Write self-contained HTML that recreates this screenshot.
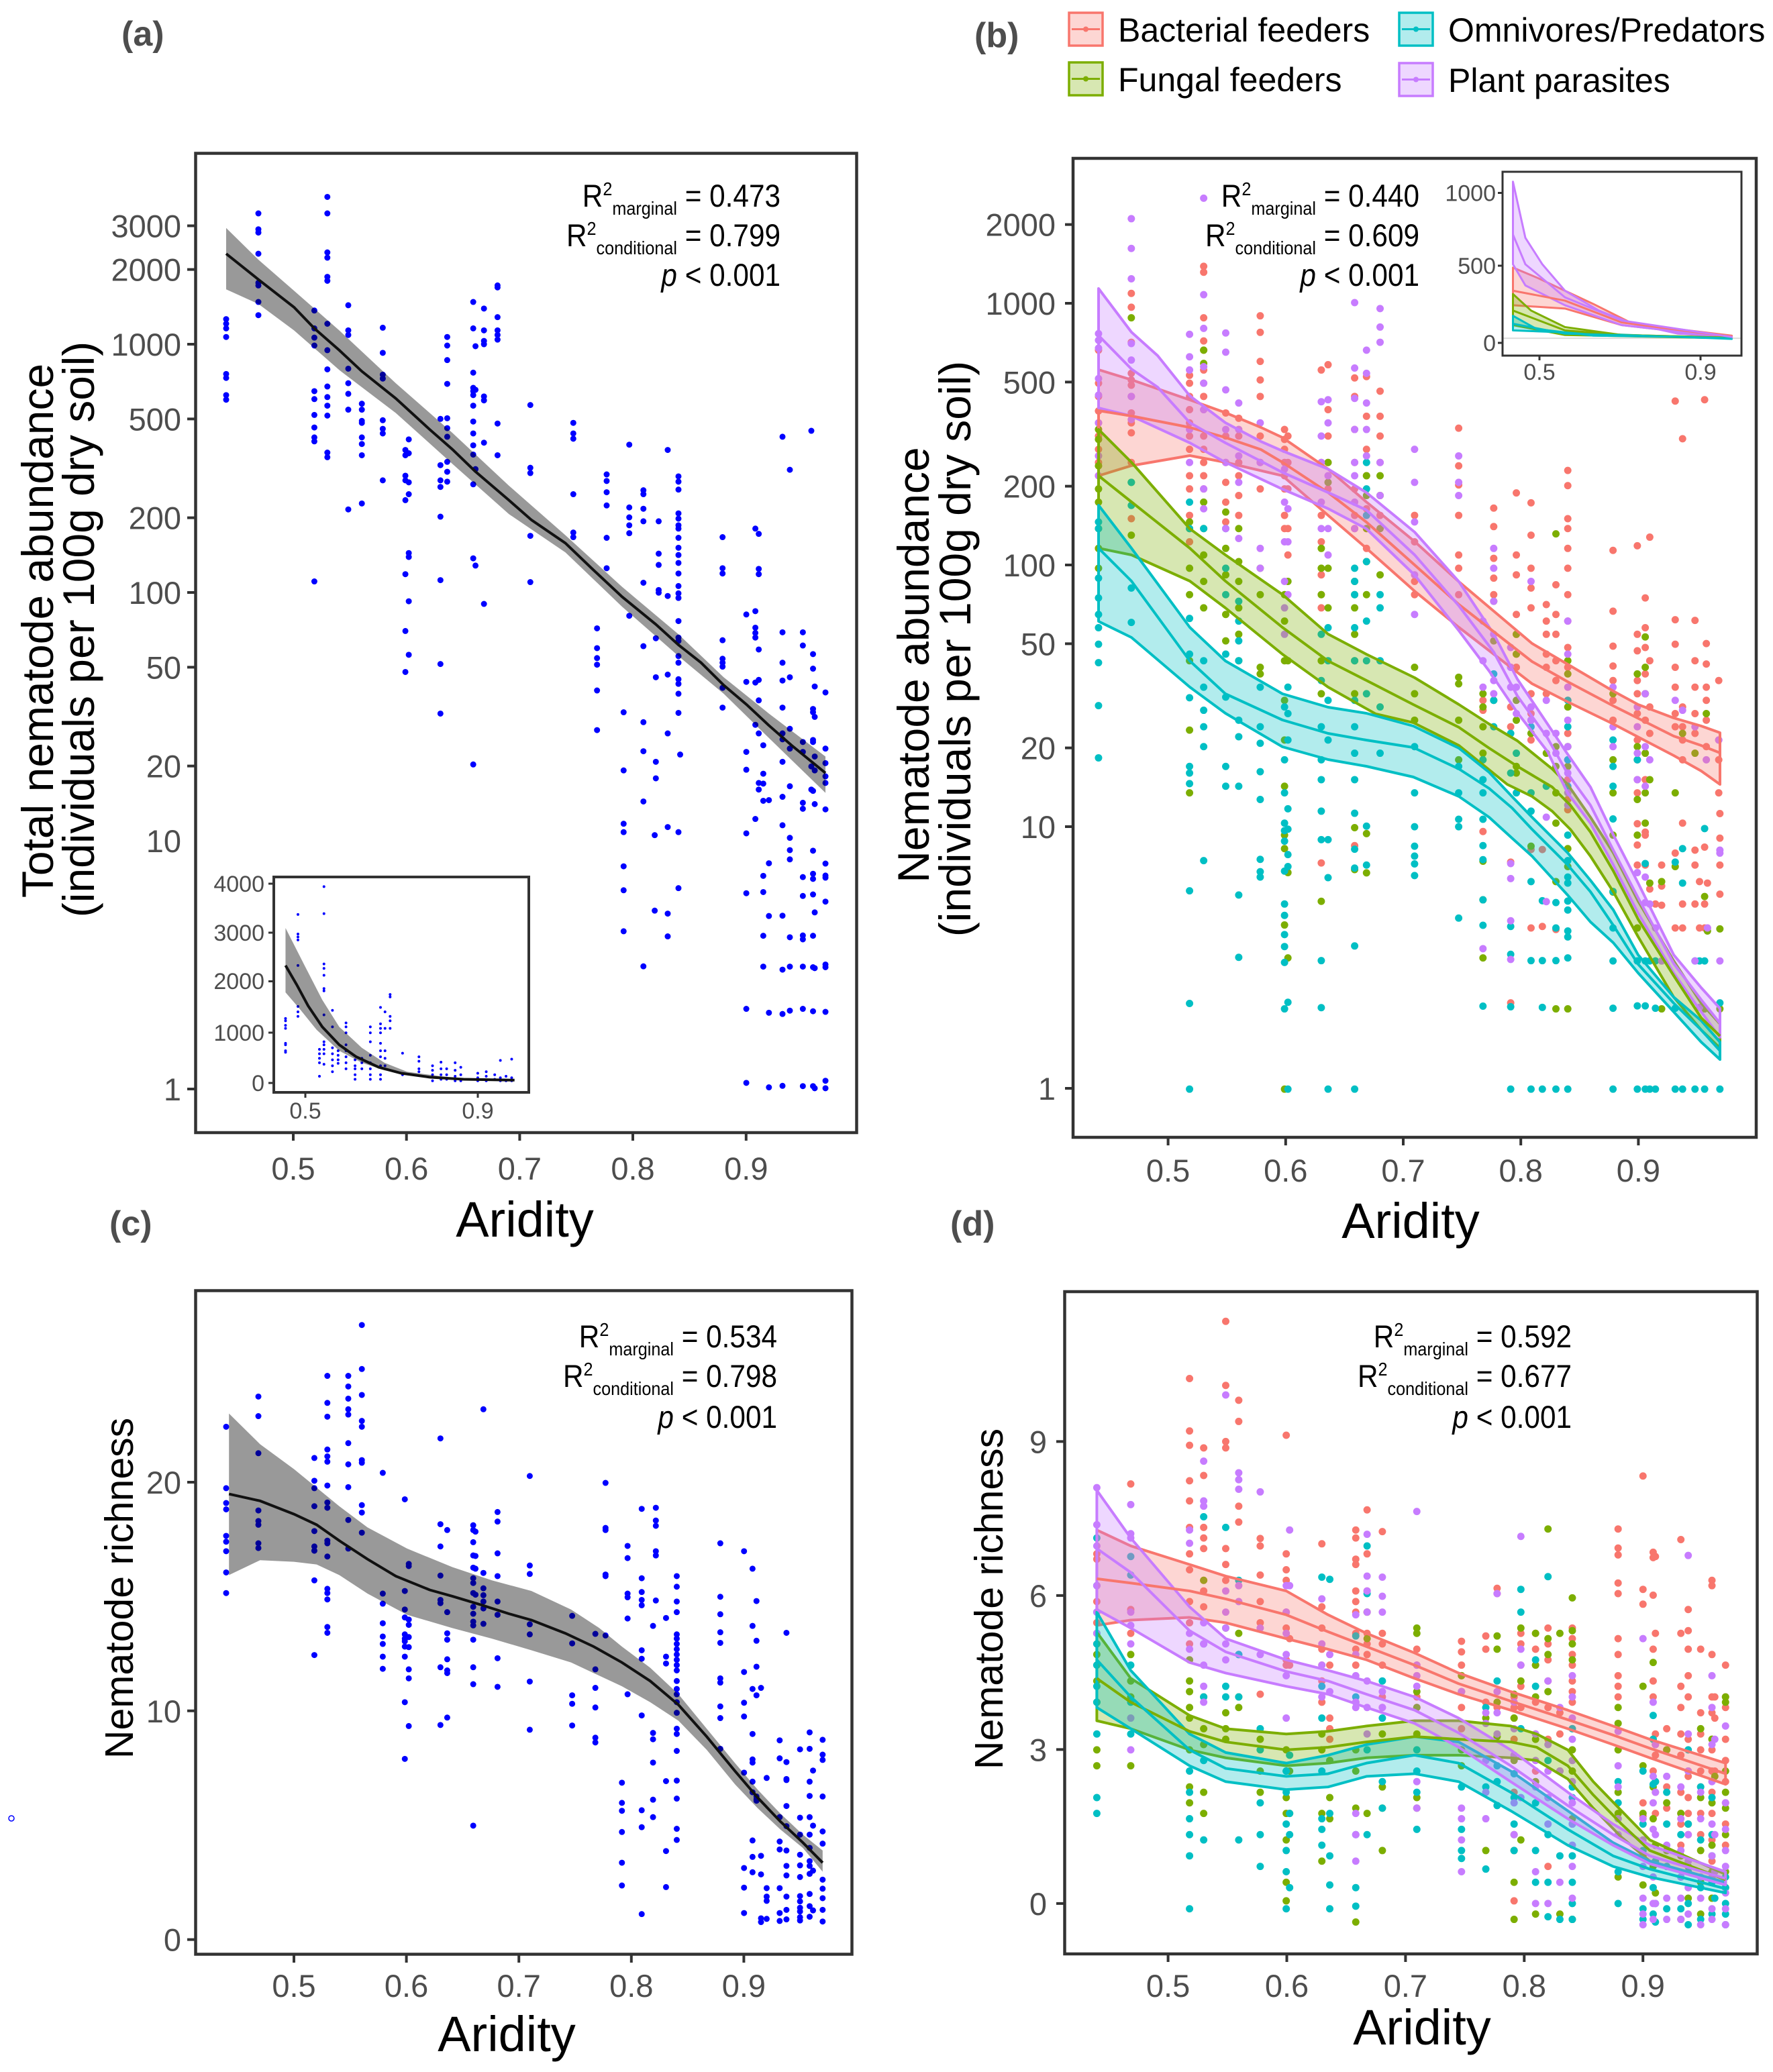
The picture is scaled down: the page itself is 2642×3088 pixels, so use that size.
<!DOCTYPE html>
<html><head><meta charset="utf-8"><style>
html,body{margin:0;padding:0;background:#fff}
svg{display:block}
.nv{vector-effect:non-scaling-stroke}
.d{fill:none;stroke-linecap:round;vector-effect:non-scaling-stroke}
text{font-family:"Liberation Sans",Arial,sans-serif}
.tk{fill:#4d4d4d;font-size:47px}
.ti{fill:#4d4d4d;font-size:34px}
</style></head><body>
<svg width="2642" height="3088" viewBox="0 0 2642 3088" xmlns="http://www.w3.org/2000/svg">
<rect width="2642" height="3088" fill="#fff"/>

<!-- ========== PANEL A ========== -->
<g transform="matrix(0.8425 0 0 0.9847 0 0)">
<path class="d" stroke="#0000ff" stroke-width="9" d="M400 483h0M400 490h0M400 497h0M400 510h0M400 566h0M400 572h0M400 598h0M400 605h0M457 323h0M457 347h0M457 352h0M457 384h0M457 428h0M457 432h0M457 457h0M457 477h0M556 470h0M556 497h0M556 511h0M556 523h0M556 592h0M556 604h0M556 628h0M556 647h0M556 662h0M556 668h0M556 880h0M579 298h0M579 323h0M579 382h0M579 390h0M579 419h0M579 425h0M579 490h0M579 530h0M579 559h0M579 585h0M579 601h0M579 614h0M579 629h0M579 685h0M579 692h0M616 462h0M616 500h0M616 507h0M616 558h0M616 580h0M616 596h0M616 620h0M616 771h0M640 611h0M640 620h0M640 637h0M640 640h0M640 662h0M640 672h0M640 689h0M640 762h0M677 496h0M677 534h0M677 567h0M677 573h0M677 636h0M677 649h0M677 656h0M677 727h0M717 681h0M717 689h0M717 720h0M717 727h0M717 757h0M717 869h0M717 955h0M717 1017h0M723 665h0M723 686h0M723 730h0M723 748h0M723 837h0M723 843h0M723 910h0M723 991h0M779 634h0M779 704h0M779 727h0M779 737h0M779 782h0M779 878h0M779 1005h0M779 1080h0M791 510h0M791 523h0M791 545h0M791 581h0M791 633h0M791 648h0M791 661h0M791 699h0M791 714h0M791 729h0M837 457h0M837 497h0M837 564h0M837 587h0M837 592h0M837 598h0M837 614h0M837 638h0M837 656h0M837 674h0M837 688h0M837 733h0M837 845h0M837 1157h0M841 524h0M841 590h0M841 710h0M841 856h0M856 467h0M856 500h0M856 516h0M856 521h0M856 600h0M856 606h0M856 670h0M856 914h0M880 432h0M880 435h0M880 480h0M880 500h0M880 507h0M880 514h0M880 641h0M880 689h0M938 613h0M938 708h0M938 716h0M938 811h0M938 881h0M1014 640h0M1014 656h0M1014 664h0M1014 748h0M1014 806h0M1014 813h0M1056 951h0M1056 981h0M1056 996h0M1056 1006h0M1056 1045h0M1056 1105h0M1073 718h0M1073 728h0M1073 745h0M1073 765h0M1073 814h0M1073 860h0M1103 1078h0M1103 1166h0M1113 673h0M1113 768h0M1113 783h0M1113 795h0M1113 807h0M1113 932h0M1138 742h0M1138 748h0M1138 770h0M1138 789h0M1138 882h0M1138 978h0M1138 1093h0M1138 1137h0M1138 1213h0M1160 966h0M1160 1025h0M1160 1153h0M1160 1178h0M1165 789h0M1165 838h0M1165 855h0M1165 893h0M1165 897h0M1181 681h0M1181 902h0M1181 1021h0M1181 1110h0M1200 721h0M1200 729h0M1200 741h0M1200 777h0M1200 785h0M1200 795h0M1200 800h0M1200 814h0M1200 829h0M1200 840h0M1200 852h0M1200 868h0M1200 887h0M1200 898h0M1200 905h0M1200 940h0M1200 965h0M1200 970h0M1200 993h0M1200 1003h0M1200 1028h0M1200 1035h0M1200 1050h0M1200 1079h0M1203 1142h0M1278 813h0M1278 860h0M1278 868h0M1278 969h0M1278 997h0M1278 1003h0M1278 1009h0M1278 1041h0M1278 1071h0M1320 930h0M1320 1032h0M1320 1138h0M1320 1165h0M1336 800h0M1336 925h0M1336 950h0M1336 958h0M1336 965h0M1336 1033h0M1336 1097h0M1342 808h0M1342 861h0M1342 869h0M1342 983h0M1342 1029h0M1342 1060h0M1342 1110h0M1342 1185h0M1342 1195h0M1350 1128h0M1350 1171h0M1350 1186h0M1350 1212h0M1360 1211h0M1384 661h0M1384 957h0M1384 1003h0M1384 1030h0M1384 1071h0M1384 1110h0M1384 1119h0M1384 1153h0M1384 1206h0M1397 711h0M1397 1025h0M1397 1103h0M1397 1133h0M1397 1190h0M1420 957h0M1420 977h0M1420 1123h0M1420 1138h0M1420 1215h0M1435 652h0M1435 1160h0M1435 1195h0M1438 990h0M1438 1012h0M1438 1073h0M1438 1078h0M1438 1120h0M1438 1123h0M1438 1197h0M1441 1039h0M1441 1085h0M1441 1145h0M1441 1166h0M1441 1217h0M1460 1048h0M1460 1133h0M1460 1155h0M1460 1175h0M1460 1185h0"/>
<polygon class="nv" fill="#000" fill-opacity="0.4" points="400,345 457,393 520,440 600,500 700,580 800,655 900,735 1000,810 1100,888 1200,960 1280,1025 1360,1080 1460,1145 1460,1200 1360,1117 1280,1050 1200,993 1100,918 1000,836 900,778 800,702 700,625 600,560 520,500 457,460 400,438"/>
<polyline class="nv" fill="none" stroke="#111" stroke-width="4" points="400,384 457,423 520,465 556,497 600,530 640,562 700,603 760,650 800,680 840,713 900,757 940,787 1000,822 1050,863 1100,903 1160,945 1200,976 1240,1003 1280,1037 1320,1066 1360,1098 1400,1128 1460,1170"/>
</g>
<g transform="matrix(0.8425 0 0 0.4464 0 1200)">
<path class="d" stroke="#0000ff" stroke-width="9" d="M1103 62h0M1103 90h0M1103 204h0M1103 284h0M1103 421h0M1138 538h0M1158 100h0M1158 352h0M1181 73h0M1181 362h0M1181 438h0M1200 90h0M1200 277h0M1320 94h0M1320 294h0M1320 680h0M1320 927h0M1336 46h0M1350 236h0M1350 290h0M1350 436h0M1350 539h0M1360 194h0M1360 370h0M1360 693h0M1360 942h0M1384 67h0M1384 369h0M1384 549h0M1384 697h0M1384 937h0M1397 109h0M1397 150h0M1397 181h0M1397 441h0M1397 539h0M1397 686h0M1420 12h0M1420 240h0M1420 303h0M1420 435h0M1420 448h0M1420 539h0M1420 680h0M1420 938h0M1438 152h0M1438 229h0M1438 246h0M1438 298h0M1438 436h0M1438 541h0M1438 688h0M1438 938h0M1441 358h0M1441 544h0M1441 945h0M1460 14h0M1460 195h0M1460 235h0M1460 242h0M1460 322h0M1460 532h0M1460 541h0M1460 690h0M1460 920h0M1460 945h0"/>
</g>
<!-- inset a -->
<rect x="408" y="1307" width="380" height="321" fill="#fff"/>
<g transform="matrix(0.8425 0 0 0.4464 0 1200)">
<path class="d" stroke="#0000ff" stroke-width="4" d="M505 712h0M505 720h0M505 735h0M505 745h0M505 795h0M505 800h0M505 820h0M505 825h0M527 365h0M527 430h0M527 440h0M527 450h0M527 535h0M527 672h0M527 690h0M527 705h0M565 815h0M565 830h0M565 845h0M565 860h0M565 905h0M573 272h0M573 362h0M573 530h0M573 545h0M573 568h0M573 612h0M573 620h0M573 700h0M573 790h0M573 800h0M573 815h0M573 830h0M573 865h0M588 685h0M588 740h0M588 810h0M588 830h0M588 850h0M588 870h0M588 890h0M598 820h0M598 835h0M598 850h0M598 862h0M612 727h0M612 740h0M612 760h0M612 800h0M612 820h0M612 840h0M612 860h0M612 880h0M628 850h0M628 870h0M628 880h0M628 900h0M628 915h0M640 845h0M640 860h0M640 880h0M655 740h0M655 760h0M655 790h0M655 835h0M655 860h0M655 880h0M655 900h0M655 915h0M673 675h0M673 730h0M673 745h0M673 760h0M673 795h0M673 820h0M673 840h0M673 870h0M673 900h0M673 915h0M681 690h0M681 745h0M681 820h0M681 845h0M681 870h0M690 632h0M690 640h0M690 705h0M690 720h0M690 745h0M712 828h0M712 900h0M741 840h0M741 855h0M741 880h0M741 890h0M765 870h0M765 885h0M765 900h0M765 920h0M780 858h0M780 880h0M780 900h0M780 915h0M790 880h0M790 900h0M790 915h0M805 860h0M805 885h0M805 905h0M805 920h0M815 875h0M815 900h0M815 920h0M845 895h0M845 910h0M845 920h0M860 890h0M860 905h0M860 920h0M875 900h0M875 915h0M885 852h0M885 910h0M885 920h0M895 905h0M895 920h0M905 848h0M905 910h0M905 920h0"/>
<polygon class="nv" fill="#000" fill-opacity="0.4" points="505,410 540,540 570,650 600,740 640,810 680,860 720,890 800,910 910,915 910,921 800,915 750,905 680,885 640,860 600,820 560,750 530,680 505,625"/>
<polyline class="nv" fill="none" stroke="#111" stroke-width="4" points="505,535 525,600 545,670 570,740 600,800 630,840 670,875 710,895 760,908 820,915 910,918"/>
</g>
<rect x="408" y="1307" width="380" height="321" fill="none" stroke="#333" stroke-width="4"/>
<g stroke="#333" stroke-width="3">
<path d="M400 1317H408M400 1390H408M400 1462.5H408M400 1539H408M400 1614H408M455 1628V1636M712 1628V1636"/>
</g>
<g class="ti" text-anchor="end">
<text x="394" y="1329">4000</text><text x="394" y="1402">3000</text><text x="394" y="1474">2000</text><text x="394" y="1551">1000</text><text x="394" y="1626">0</text>
</g>
<g class="ti" text-anchor="middle"><text x="455" y="1667">0.5</text><text x="712" y="1667">0.9</text></g>

<!-- frame a -->
<rect x="291.5" y="228.5" width="985" height="1459.5" fill="none" stroke="#333" stroke-width="4.5"/>
<path stroke="#333" stroke-width="4" d="M279 336.5H291M279 401.6H291M279 513H291M279 624.4H291M279 771.6H291M279 883H291M279 994.4H291M279 1141.6H291M279 1623H291M437 1688V1700M605.7 1688V1700M774.4 1688V1700M943 1688V1700M1111.8 1688V1700"/>
<g class="tk" text-anchor="end">
<text x="270" y="353.5">3000</text><text x="270" y="418.6">2000</text><text x="270" y="530">1000</text><text x="270" y="641.4">500</text><text x="270" y="788.6">200</text><text x="270" y="900">100</text><text x="270" y="1011.4">50</text><text x="270" y="1158.6">20</text><text x="270" y="1270">10</text><text x="270" y="1640">1</text>
</g>
<g class="tk" text-anchor="middle">
<text x="437" y="1758">0.5</text><text x="605.7" y="1758">0.6</text><text x="774.4" y="1758">0.7</text><text x="943" y="1758">0.8</text><text x="1111.8" y="1758">0.9</text>
</g>
<g font-size="47">
<text transform="translate(1163,308) scale(0.9,1)" text-anchor="end">R<tspan font-size="28" dy="-17">2</tspan><tspan font-size="28" dy="29">marginal</tspan><tspan dy="-12">&#160;= 0.473</tspan></text>
<text transform="translate(1163,367) scale(0.9,1)" text-anchor="end">R<tspan font-size="28" dy="-17">2</tspan><tspan font-size="28" dy="29">conditional</tspan><tspan dy="-12">&#160;= 0.799</tspan></text>
<text transform="translate(1163,426) scale(0.9,1)" text-anchor="end"><tspan font-style="italic">p</tspan>&#160;&lt; 0.001</text>
</g>
<text transform="translate(79,940) rotate(-90)" text-anchor="middle" font-size="66">Total nematode abundance</text>
<text transform="translate(140,938) rotate(-90)" text-anchor="middle" font-size="66">(individuals per 100g dry soil)</text>
<text x="782" y="1843" text-anchor="middle" font-size="74">Aridity</text>
<text x="181" y="68" font-size="52" font-weight="bold" fill="#4d4d4d">(a)</text>

<!-- ========== PANEL B ========== -->
<g transform="matrix(0.8425 0 0 0.9847 1321 0)">
<path class="d" stroke="#F8766D" stroke-width="11" d="M375 530h0M375 580h0M375 600h0M375 622h0M375 640h0M375 660h0M375 680h0M375 700h0M375 720h0M375 830h0M433 444h0M433 465h0M433 518h0M433 565h0M433 575h0M433 583h0M433 600h0M433 625h0M433 640h0M433 655h0M433 700h0M433 785h0M536 568h0M536 580h0M536 600h0M536 620h0M536 640h0M536 660h0M536 680h0M536 720h0M536 740h0M536 780h0M536 820h0M561 403h0M561 412h0M561 481h0M561 516h0M561 530h0M561 560h0M561 580h0M561 600h0M561 620h0M561 660h0M561 680h0M561 700h0M561 720h0M561 740h0M600 625h0M600 660h0M600 700h0M600 730h0M600 760h0M600 790h0M623 633h0M623 660h0M623 700h0M623 720h0M623 750h0M623 780h0M661 478h0M661 503h0M661 547h0M661 575h0M661 600h0M661 660h0M661 700h0M661 740h0M704 650h0M704 665h0M704 680h0M704 700h0M704 720h0M704 740h0M704 780h0M704 800h0M710 660h0M710 700h0M710 740h0M710 800h0M710 840h0M769 560h0M769 700h0M769 780h0M769 820h0M769 870h0M769 900h0M769 920h0M781 552h0M781 620h0M781 660h0M781 700h0M781 740h0M828 572h0M828 600h0M828 650h0M828 700h0M828 740h0M828 780h0M828 800h0M849 570h0M849 630h0M849 680h0M849 720h0M849 770h0M849 800h0M849 830h0M873 592h0M873 630h0M873 660h0M873 700h0M873 750h0M873 780h0M934 780h0M934 820h0M934 880h0M934 900h0M1012 648h0M1012 705h0M1012 734h0M1012 780h0M1012 840h0M1012 860h0M1012 900h0M1055 1060h0M1055 1075h0M1055 1100h0M1074 769h0M1074 797h0M1074 845h0M1074 875h0M1074 900h0M1104 1010h0M1104 1070h0M1104 1100h0M1114 746h0M1114 840h0M1114 870h0M1114 930h0M1114 960h0M1114 990h0M1114 1010h0M1140 761h0M1140 810h0M1140 860h0M1140 890h0M1140 920h0M1140 1050h0M1140 1080h0M1140 1120h0M1167 915h0M1167 940h0M1167 960h0M1167 990h0M1167 1010h0M1167 1050h0M1184 885h0M1184 930h0M1184 960h0M1184 1000h0M1184 1030h0M1205 712h0M1205 735h0M1205 785h0M1205 800h0M1205 830h0M1205 860h0M1205 900h0M1205 940h0M1205 980h0M1205 1010h0M1205 1060h0M1205 1110h0M1205 1150h0M1205 1180h0M1205 1210h0M1285 833h0M1285 925h0M1285 978h0M1285 1008h0M1285 1030h0M1285 1060h0M1285 1090h0M1328 826h0M1328 960h0M1328 985h0M1328 1030h0M1328 1050h0M1328 1080h0M1328 1120h0M1328 1150h0M1328 1180h0M1328 1200h0M1342 905h0M1342 950h0M1342 980h0M1342 1020h0M1342 1050h0M1342 1090h0M1342 1140h0M1342 1180h0M1350 813h0M1350 1000h0M1350 1070h0M1350 1110h0M1395 607h0M1395 938h0M1395 975h0M1395 1010h0M1395 1040h0M1395 1080h0M1395 1100h0M1408 664h0M1408 1070h0M1408 1100h0M1408 1120h0M1408 1150h0M1430 939h0M1430 1000h0M1430 1040h0M1430 1080h0M1430 1110h0M1447 605h0M1450 974h0M1450 1005h0M1450 1040h0M1450 1060h0M1450 1090h0M1450 1130h0M1472 1030h0M1472 1120h0M1472 1150h0M1472 1200h0"/>
<path class="d" stroke="#7CAE00" stroke-width="11" d="M375 650h0M375 665h0M375 705h0M375 740h0M375 760h0M375 800h0M375 830h0M375 860h0M433 481h0M433 730h0M433 810h0M536 790h0M536 800h0M536 860h0M536 900h0M536 1000h0M536 1105h0M536 1200h0M561 530h0M561 550h0M561 760h0M561 800h0M561 840h0M561 880h0M561 920h0M600 775h0M600 830h0M600 870h0M600 930h0M600 970h0M623 800h0M623 850h0M623 880h0M623 920h0M623 960h0M623 1000h0M661 860h0M661 900h0M661 1010h0M661 1020h0M704 900h0M704 940h0M704 1000h0M704 1060h0M704 1120h0M704 1190h0M710 880h0M710 1000h0M769 830h0M769 860h0M769 900h0M769 1000h0M769 1050h0M781 700h0M781 730h0M781 860h0M781 920h0M828 880h0M828 900h0M828 920h0M828 960h0M828 1000h0M828 1050h0M849 720h0M849 750h0M849 800h0M849 850h0M849 900h0M873 720h0M873 750h0M873 800h0M873 870h0M934 1010h0M934 1050h0M934 1090h0M1012 1025h0M1012 1035h0M1012 1090h0M1012 1150h0M1055 1050h0M1055 1070h0M1055 1100h0M1055 1140h0M1074 910h0M1074 970h0M1074 1060h0M1114 960h0M1114 990h0M1114 1060h0M1114 1090h0M1114 1160h0M1114 1170h0M1140 1090h0M1140 1110h0M1167 1140h0M1184 808h0M1184 1130h0M1184 1160h0M1184 1200h0M1205 1000h0M1205 1020h0M1205 1070h0M1205 1130h0M1205 1160h0M1285 1050h0M1285 1150h0M1285 1200h0M1328 1020h0M1328 1130h0M1328 1210h0M1342 964h0M1342 1010h0M1342 1050h0M1342 1140h0M1342 1200h0M1350 1180h0M1395 1200h0M1408 1110h0M1430 1140h0M1450 1080h0"/>
<path class="d" stroke="#00BFC4" stroke-width="11" d="M375 790h0M375 800h0M375 875h0M375 905h0M375 930h0M375 950h0M375 975h0M375 1003h0M375 1068h0M375 1147h0M433 730h0M433 765h0M433 890h0M433 942h0M536 760h0M536 800h0M536 936h0M536 990h0M536 1056h0M536 1160h0M536 1170h0M536 1186h0M561 800h0M561 1000h0M561 1040h0M561 1075h0M561 1100h0M561 1130h0M600 800h0M600 860h0M600 900h0M600 990h0M600 1055h0M600 1160h0M600 1190h0M623 910h0M623 940h0M623 970h0M623 1000h0M623 1090h0M623 1115h0M623 1190h0M661 1040h0M661 1100h0M661 1125h0M661 1168h0M661 1210h0M704 1070h0M704 1150h0M704 1200h0M710 1040h0M710 1080h0M710 1120h0M769 960h0M769 1030h0M769 1100h0M769 1150h0M769 1180h0M781 950h0M781 1000h0M781 1060h0M781 1120h0M828 860h0M828 880h0M828 900h0M828 950h0M828 1000h0M828 1060h0M828 1100h0M828 1140h0M828 1180h0M849 700h0M849 740h0M849 780h0M849 850h0M849 940h0M849 1000h0M849 1050h0M873 900h0M873 920h0M873 1000h0M873 1070h0M873 1140h0M934 1130h0M934 1200h0M1012 1160h0M1012 1200h0M1055 1150h0M1055 1180h0M1055 1200h0M1074 1020h0M1074 1060h0M1074 1100h0M1104 1110h0M1104 1170h0M1114 1140h0M1114 1200h0M1140 1100h0M1140 1200h0M1167 1190h0M1205 1060h0M1205 1100h0M1205 1150h0M1205 1190h0M1285 1120h0M1285 1160h0M1285 1190h0M1328 1150h0"/>
<path class="d" stroke="#C77CFF" stroke-width="11" d="M561 300h0M375 505h0M375 515h0M375 527h0M375 573h0M375 598h0M375 640h0M375 690h0M375 720h0M433 331h0M433 376h0M433 422h0M433 520h0M433 545h0M433 600h0M433 635h0M536 506h0M536 540h0M536 560h0M536 650h0M536 700h0M561 446h0M561 497h0M561 555h0M561 580h0M561 620h0M561 740h0M561 770h0M600 504h0M600 533h0M600 590h0M600 650h0M600 700h0M600 800h0M623 610h0M623 650h0M623 690h0M623 730h0M623 815h0M661 640h0M661 700h0M661 830h0M661 860h0M704 710h0M704 760h0M704 820h0M704 880h0M704 920h0M704 960h0M710 770h0M710 820h0M710 900h0M769 608h0M769 660h0M769 700h0M769 760h0M769 800h0M781 605h0M781 640h0M781 720h0M781 800h0M781 840h0M828 458h0M828 557h0M828 603h0M828 650h0M828 700h0M828 720h0M828 760h0M828 800h0M849 530h0M849 565h0M849 610h0M849 650h0M849 690h0M873 467h0M873 495h0M873 518h0M873 700h0M873 750h0M934 680h0M934 730h0M934 790h0M934 870h0M934 930h0M1012 690h0M1012 730h0M1012 750h0M1055 940h0M1055 1000h0M1055 1040h0M1074 830h0M1074 860h0M1074 910h0M1074 960h0M1074 1030h0M1074 1050h0M1104 980h0M1104 1010h0M1104 1040h0M1114 1040h0M1114 1080h0M1140 880h0M1140 1070h0M1140 1090h0M1167 1060h0M1167 1110h0M1184 1110h0M1184 1140h0M1205 940h0M1205 990h0M1205 1040h0M1205 1090h0M1205 1130h0M1205 1170h0M1205 1200h0M1285 1040h0M1285 1100h0M1285 1130h0M1328 1070h0M1328 1100h0M1328 1140h0M1328 1180h0M1342 1050h0M1342 1130h0M1342 1190h0M1350 1150h0M1395 1060h0M1408 1075h0M1430 1100h0M1450 1150h0M1472 1120h0"/>
</g>
<g transform="matrix(0.8425 0 0 0.4464 1321 1200)">
<path class="d" stroke="#F8766D" stroke-width="11" d="M769 193h0M828 135h0M1055 88h0M1104 190h0M1104 660h0M1140 410h0M1140 148h0M1160 405h0M1160 148h0M1184 415h0M1205 15h0M1328 62h0M1328 133h0M1328 200h0M1328 410h0M1328 520h0M1342 90h0M1342 100h0M1342 200h0M1350 280h0M1360 330h0M1371 200h0M1371 270h0M1371 334h0M1395 160h0M1395 410h0M1408 60h0M1408 330h0M1408 410h0M1430 150h0M1430 200h0M1430 330h0M1438 255h0M1438 410h0M1447 140h0M1447 330h0M1447 410h0M1452 260h0M1452 410h0M1474 28h0M1474 110h0M1474 200h0M1474 297h0"/>
<path class="d" stroke="#7CAE00" stroke-width="11" d="M704 100h0M704 145h0M704 400h0M704 948h0M710 225h0M710 510h0M769 321h0M828 75h0M828 215h0M849 95h0M849 226h0M1055 187h0M1055 316h0M1055 510h0M1140 137h0M1184 60h0M1184 255h0M1184 680h0M1205 145h0M1205 205h0M1205 680h0M1285 100h0M1285 290h0M1328 100h0M1328 410h0M1342 60h0M1350 260h0M1371 255h0M1371 520h0M1371 680h0M1395 205h0M1447 305h0M1447 680h0M1452 420h0M1474 413h0M1474 680h0"/>
<path class="d" stroke="#00BFC4" stroke-width="11" d="M536 286h0M536 662h0M536 948h0M561 185h0M623 300h0M623 508h0M661 181h0M661 222h0M661 240h0M704 60h0M704 85h0M704 120h0M704 220h0M704 330h0M704 368h0M704 432h0M704 472h0M704 525h0M704 680h0M710 948h0M710 12h0M710 80h0M710 165h0M710 205h0M710 658h0M769 20h0M769 115h0M769 519h0M769 676h0M781 115h0M781 242h0M781 948h0M828 27h0M828 147h0M828 210h0M828 470h0M828 948h0M849 70h0M849 200h0M934 72h0M934 137h0M934 170h0M934 196h0M934 235h0M1012 47h0M1012 72h0M1012 377h0M1055 47h0M1055 135h0M1055 182h0M1055 316h0M1055 401h0M1055 671h0M1104 405h0M1104 498h0M1104 673h0M1104 948h0M1140 20h0M1140 255h0M1140 519h0M1140 948h0M1160 319h0M1160 519h0M1160 675h0M1160 948h0M1184 325h0M1184 410h0M1184 519h0M1184 948h0M1205 100h0M1205 185h0M1205 240h0M1205 260h0M1205 320h0M1205 350h0M1205 420h0M1205 440h0M1205 510h0M1205 948h0M1285 46h0M1285 288h0M1285 410h0M1285 520h0M1285 678h0M1285 948h0M1328 520h0M1328 670h0M1328 948h0M1342 195h0M1342 520h0M1342 670h0M1342 948h0M1350 520h0M1350 948h0M1360 520h0M1360 678h0M1360 948h0M1395 190h0M1395 678h0M1395 948h0M1408 145h0M1408 260h0M1408 948h0M1430 520h0M1430 948h0M1438 520h0M1447 78h0M1447 520h0M1447 948h0M1474 660h0M1474 948h0"/>
<path class="d" stroke="#C77CFF" stroke-width="11" d="M1055 479h0M1104 245h0M1104 386h0M1104 515h0M1104 195h0M1167 40h0M1167 322h0M1205 0h0M1328 225h0M1342 240h0M1342 325h0M1350 330h0M1360 410h0M1371 520h0M1430 520h0M1438 675h0M1452 410h0M1474 150h0M1474 160h0M1474 520h0"/>
</g>
<!-- B ribbons -->
<g stroke-width="4" stroke-linejoin="round">
<polygon fill="#F8766D" fill-opacity="0.3" stroke="#F8766D" points="1637,551 1686,566 1773,596 1826,615 1879,637 1911,652 1979,699 2036,748 2108,807 2174,867 2283,959 2336,990 2404,1030 2441,1050 2494,1070 2535,1082 2563,1092 2563,1169 2535,1149 2494,1126 2404,1079 2336,1046 2283,1019 2174,935 2108,881 2036,817 1979,768 1911,709 1826,689 1773,679 1686,694 1637,709"/>
<polygon fill="#7CAE00" fill-opacity="0.3" stroke="#7CAE00" points="1637,640 1686,689 1773,788 1826,827 1911,886 1979,945 2036,975 2108,1010 2174,1050 2219,1079 2261,1104 2313,1146 2336,1169 2370,1218 2404,1271 2441,1343 2494,1432 2535,1495 2563,1526 2563,1562 2535,1535 2494,1486 2441,1396 2404,1329 2370,1276 2340,1236 2313,1209 2283,1187 2246,1169 2174,1111 2106,1077 2050,1064 1979,1024 1911,975 1826,906 1773,866 1686,827 1637,817"/>
<polygon fill="#00BFC4" fill-opacity="0.3" stroke="#00BFC4" points="1637,753 1686,817 1773,935 1826,985 1911,1034 1979,1054 2036,1063 2106,1082 2174,1115 2219,1151 2253,1187 2283,1218 2336,1271 2370,1312 2404,1356 2441,1423 2494,1486 2535,1521 2563,1553 2563,1579 2535,1553 2494,1508 2441,1450 2404,1405 2370,1374 2336,1334 2283,1276 2253,1249 2219,1218 2174,1187 2106,1158 2036,1142 1979,1132 1911,1113 1826,1063 1773,1024 1686,950 1637,926"/>
<polygon fill="#C77CFF" fill-opacity="0.3" stroke="#C77CFF" points="1637,430 1686,495 1725,530 1773,590 1826,630 1879,658 1911,672 1979,699 2036,734 2108,793 2174,867 2226,945 2261,1012 2306,1079 2336,1124 2370,1173 2404,1244 2441,1316 2494,1423 2535,1472 2563,1503 2563,1546 2535,1508 2494,1450 2441,1361 2404,1289 2370,1227 2336,1182 2306,1120 2261,1062 2219,1000 2174,940 2108,857 2036,788 1979,758 1911,729 1826,689 1773,660 1686,620 1637,608"/>
</g>
<g fill="none" stroke-width="4" stroke-linejoin="round">
<polyline stroke="#F8766D" points="1637,612 1686,620 1773,637 1826,652 1879,670 1911,689 1979,734 2036,778 2108,842 2174,901 2283,986 2336,1016 2404,1052 2494,1097 2535,1111 2563,1122"/>
<polyline stroke="#7CAE00" points="1637,709 1686,748 1773,817 1826,866 1911,935 1979,985 2036,1014 2106,1050 2174,1084 2219,1115 2261,1142 2313,1173 2340,1200 2370,1240 2404,1298 2441,1370 2494,1454 2535,1517 2563,1544"/>
<polyline stroke="#00BFC4" points="1637,817 1686,866 1773,985 1826,1034 1911,1073 1979,1093 2036,1103 2106,1114 2174,1146 2219,1175 2253,1204 2283,1236 2336,1289 2370,1329 2404,1379 2441,1437 2494,1495 2535,1535 2563,1566"/>
<polyline stroke="#C77CFF" points="1637,500 1686,550 1725,577 1773,630 1826,660 1911,704 1979,734 2036,760 2108,827 2174,903 2226,972 2261,1037 2306,1100 2336,1153 2370,1200 2404,1267 2441,1338 2494,1436 2535,1490 2563,1525"/>
</g>
<!-- inset b -->
<rect x="2239" y="256" width="356" height="274" fill="#fff"/>
<g transform="matrix(0.8425 0 0 0.9847 1321 0)" stroke-width="3" stroke-linejoin="round">
<line class="nv" x1="1090" y1="512" x2="1512" y2="512" stroke="#dcdcdc" stroke-width="2"/>
<polygon class="nv" fill="#F8766D" fill-opacity="0.3" stroke="#F8766D" points="1108,405 1150,420 1250,460 1320,490 1495,508 1495,511 1300,492 1200,467 1108,462"/>
<polygon class="nv" fill="#7CAE00" fill-opacity="0.3" stroke="#7CAE00" points="1108,445 1140,470 1200,495 1300,507 1495,511 1495,512 1200,507 1108,492"/>
<polygon class="nv" fill="#00BFC4" fill-opacity="0.3" stroke="#00BFC4" points="1108,478 1150,498 1250,508 1495,511 1495,513 1108,500"/>
<polygon class="nv" fill="#C77CFF" fill-opacity="0.3" stroke="#C77CFF" points="1108,275 1130,360 1160,400 1200,440 1260,470 1320,490 1400,505 1495,510 1495,511 1300,492 1200,462 1130,432 1108,400"/>
<polyline class="nv" fill="none" stroke="#F8766D" points="1108,440 1200,455 1300,488 1495,510"/>
<polyline class="nv" fill="none" stroke="#7CAE00" points="1108,470 1200,500 1300,507 1495,511"/>
<polyline class="nv" fill="none" stroke="#00BFC4" points="1108,490 1200,505 1495,512"/>
<polyline class="nv" fill="none" stroke="#C77CFF" points="1108,355 1130,400 1200,450 1300,485 1495,510"/>
</g>
<rect x="2239" y="256" width="356" height="274" fill="none" stroke="#333" stroke-width="3"/>
<path stroke="#333" stroke-width="3" d="M2232 287.5H2239M2232 396H2239M2232 511H2239M2294 530V537M2534 530V537"/>
<g class="ti" text-anchor="end"><text x="2229" y="299.5">1000</text><text x="2229" y="408">500</text><text x="2229" y="523">0</text></g>
<g class="ti" text-anchor="middle"><text x="2294" y="566">0.5</text><text x="2534" y="566">0.9</text></g>

<rect x="1599" y="236" width="1018" height="1459" fill="none" stroke="#333" stroke-width="4.5"/>
<path stroke="#333" stroke-width="4" d="M1587 334.6H1599M1587 452H1599M1587 569.4H1599M1587 724.6H1599M1587 842H1599M1587 959.4H1599M1587 1114.6H1599M1587 1232H1599M1587 1622H1599M1740.6 1695V1707M1915.8 1695V1707M2091 1695V1707M2266.2 1695V1707M2441.4 1695V1707"/>
<g class="tk" text-anchor="end">
<text x="1573" y="351.6">2000</text><text x="1573" y="469">1000</text><text x="1573" y="586.4">500</text><text x="1573" y="741.6">200</text><text x="1573" y="859">100</text><text x="1573" y="976.4">50</text><text x="1573" y="1131.6">20</text><text x="1573" y="1249">10</text><text x="1573" y="1639">1</text>
</g>
<g class="tk" text-anchor="middle">
<text x="1740.6" y="1761">0.5</text><text x="1915.8" y="1761">0.6</text><text x="2091" y="1761">0.7</text><text x="2266.2" y="1761">0.8</text><text x="2441.4" y="1761">0.9</text>
</g>
<g font-size="47">
<text transform="translate(2115,308) scale(0.9,1)" text-anchor="end">R<tspan font-size="28" dy="-17">2</tspan><tspan font-size="28" dy="29">marginal</tspan><tspan dy="-12">&#160;= 0.440</tspan></text>
<text transform="translate(2115,367) scale(0.9,1)" text-anchor="end">R<tspan font-size="28" dy="-17">2</tspan><tspan font-size="28" dy="29">conditional</tspan><tspan dy="-12">&#160;= 0.609</tspan></text>
<text transform="translate(2115,426) scale(0.9,1)" text-anchor="end"><tspan font-style="italic">p</tspan>&#160;&lt; 0.001</text>
</g>
<text transform="translate(1384,991) rotate(-90)" text-anchor="middle" font-size="66">Nematode abundance</text>
<text transform="translate(1446,967) rotate(-90)" text-anchor="middle" font-size="66">(individuals per 100g dry soil)</text>
<text x="2102" y="1845" text-anchor="middle" font-size="74">Aridity</text>
<text x="1452" y="70" font-size="52" font-weight="bold" fill="#4d4d4d">(b)</text>

<!-- legend -->
<g stroke-width="3.5">
<rect x="1593" y="19" width="50" height="49" fill="#F8766D" fill-opacity="0.3" stroke="#F8766D"/>
<line x1="1597" y1="43.5" x2="1639" y2="43.5" stroke="#F8766D" stroke-width="3"/>
<circle cx="1618" cy="43.5" r="4" fill="#F8766D" stroke="none"/>
<rect x="1593" y="93" width="50" height="49" fill="#7CAE00" fill-opacity="0.3" stroke="#7CAE00"/>
<line x1="1597" y1="117.5" x2="1639" y2="117.5" stroke="#7CAE00" stroke-width="3"/>
<circle cx="1618" cy="117.5" r="4" fill="#7CAE00" stroke="none"/>
<rect x="2085" y="19" width="50" height="49" fill="#00BFC4" fill-opacity="0.3" stroke="#00BFC4"/>
<line x1="2089" y1="43.5" x2="2131" y2="43.5" stroke="#00BFC4" stroke-width="3"/>
<circle cx="2110" cy="43.5" r="4" fill="#00BFC4" stroke="none"/>
<rect x="2085" y="94" width="50" height="49" fill="#C77CFF" fill-opacity="0.3" stroke="#C77CFF"/>
<line x1="2089" y1="118.5" x2="2131" y2="118.5" stroke="#C77CFF" stroke-width="3"/>
<circle cx="2110" cy="118.5" r="4" fill="#C77CFF" stroke="none"/>
</g>
<g font-size="50">
<text x="1666" y="62">Bacterial feeders</text>
<text x="1666" y="136">Fungal feeders</text>
<text x="2158" y="62">Omnivores/Predators</text>
<text x="2158" y="137">Plant parasites</text>
</g>

<!-- ========== PANEL C ========== -->
<g transform="matrix(0.8425 0 0 0.7895 0 1850)">
<path class="d" stroke="#0000ff" stroke-width="9" d="M400 350h0M400 466h0M400 494h0M400 506h0M400 556h0M400 567h0M400 585h0M400 625h0M400 664h0M457 293h0M457 330h0M457 400h0M457 508h0M457 528h0M457 535h0M457 570h0M457 579h0M556 409h0M556 452h0M556 466h0M556 500h0M556 547h0M556 576h0M556 584h0M556 640h0M556 781h0M579 254h0M579 305h0M579 331h0M579 393h0M579 406h0M579 416h0M579 461h0M579 493h0M579 503h0M579 565h0M579 570h0M579 595h0M579 656h0M579 664h0M579 676h0M579 728h0M579 739h0M616 254h0M616 274h0M616 297h0M616 317h0M616 327h0M616 381h0M616 421h0M616 464h0M616 526h0M616 580h0M640 158h0M640 241h0M640 290h0M640 339h0M640 350h0M640 413h0M640 418h0M640 498h0M640 512h0M640 550h0M677 437h0M677 665h0M677 684h0M677 721h0M677 746h0M677 760h0M677 784h0M677 807h0M716 487h0M716 660h0M716 695h0M716 710h0M716 742h0M716 750h0M716 755h0M716 765h0M716 784h0M716 870h0M716 977h0M723 609h0M723 613h0M723 714h0M723 724h0M723 747h0M723 766h0M723 808h0M723 825h0M723 915h0M779 372h0M779 534h0M779 576h0M779 631h0M779 677h0M779 683h0M779 804h0M779 913h0M791 545h0M791 700h0M791 740h0M791 752h0M791 789h0M791 810h0M791 815h0M791 899h0M837 536h0M837 545h0M837 568h0M837 593h0M837 616h0M837 636h0M837 645h0M837 664h0M837 690h0M837 703h0M837 718h0M837 725h0M837 752h0M837 804h0M837 836h0M837 1103h0M841 548h0M841 594h0M841 618h0M841 667h0M855 317h0M855 626h0M855 655h0M855 668h0M855 680h0M855 693h0M855 722h0M880 511h0M880 529h0M880 589h0M880 632h0M880 680h0M880 705h0M880 787h0M880 841h0M937 443h0M937 612h0M937 628h0M937 723h0M937 742h0M937 831h0M937 922h0M1012 707h0M1012 759h0M1012 857h0M1012 873h0M1012 914h0M1053 741h0M1053 808h0M1053 843h0M1053 880h0M1053 937h0M1053 946h0M1071 456h0M1071 541h0M1071 545h0M1071 629h0M1071 632h0M1071 744h0M1100 1022h0M1100 1060h0M1100 1075h0M1100 1115h0M1100 1173h0M1100 1216h0M1110 575h0M1110 598h0M1110 665h0M1110 672h0M1110 712h0M1110 855h0M1135 505h0M1135 636h0M1135 662h0M1135 677h0M1135 687h0M1135 772h0M1135 788h0M1135 895h0M1135 1074h0M1135 1106h0M1135 1270h0M1155 726h0M1155 928h0M1155 940h0M1155 984h0M1155 1054h0M1155 1087h0M1160 503h0M1160 527h0M1160 537h0M1160 585h0M1160 593h0M1160 678h0M1178 711h0M1178 784h0M1178 797h0M1178 1019h0M1178 1151h0M1178 1219h0M1197 632h0M1197 652h0M1197 680h0M1197 700h0M1197 742h0M1197 750h0M1197 760h0M1197 770h0M1197 780h0M1197 790h0M1197 800h0M1197 810h0M1197 830h0M1197 845h0M1197 855h0M1197 870h0M1197 890h0M1197 920h0M1197 930h0M1197 962h0M1197 1018h0M1197 1052h0M1197 1109h0M1197 1130h0M1274 570h0M1274 671h0M1274 704h0M1274 738h0M1274 758h0M1274 825h0M1274 833h0M1274 878h0M1274 900h0M1274 958h0M1316 585h0M1316 813h0M1316 871h0M1316 897h0M1316 1003h0M1316 1183h0M1316 1220h0M1316 1268h0M1331 618h0M1331 726h0M1331 845h0M1331 930h0M1331 978h0M1331 984h0M1331 1020h0M1331 1040h0M1331 1131h0M1331 1162h0M1331 1191h0M1338 679h0M1338 754h0M1338 803h0M1338 857h0M1338 1048h0M1338 1053h0M1338 1056h0M1346 843h0M1346 1160h0M1346 1195h0M1346 1278h0M1346 1285h0M1356 1013h0M1356 1221h0M1356 1237h0M1356 1245h0M1356 1279h0M1379 942h0M1379 976h0M1379 1087h0M1379 1133h0M1379 1148h0M1379 1221h0M1379 1268h0M1379 1283h0M1391 739h0M1391 983h0M1391 1015h0M1391 1017h0M1391 1066h0M1391 1104h0M1391 1150h0M1391 1179h0M1391 1197h0M1391 1237h0M1391 1262h0M1391 1280h0M1415 959h0M1415 1088h0M1415 1120h0M1415 1158h0M1415 1178h0M1415 1200h0M1415 1236h0M1415 1246h0M1415 1258h0M1415 1265h0M1415 1276h0M1415 1282h0M1432 927h0M1432 958h0M1432 1020h0M1432 1047h0M1432 1087h0M1432 1120h0M1432 1145h0M1432 1170h0M1432 1179h0M1432 1194h0M1432 1232h0M1432 1255h0M1432 1275h0M1438 999h0M1438 1103h0M1438 1188h0M1438 1263h0M1455 941h0M1455 969h0M1455 979h0M1455 1048h0M1455 1114h0M1455 1137h0M1455 1205h0M1455 1222h0M1455 1240h0M1455 1262h0M1455 1284h0"/>
<polygon class="nv" fill="#000" fill-opacity="0.4" points="405,325 460,383 520,430 560,465 600,500 650,540 720,580 800,615 870,640 940,660 1010,695 1060,730 1100,765 1150,805 1200,855 1250,920 1300,985 1340,1035 1380,1080 1420,1120 1455,1150 1455,1190 1420,1145 1380,1110 1340,1070 1300,1025 1250,960 1200,905 1150,870 1100,840 1060,820 1010,795 940,772 870,750 800,730 720,705 650,665 600,630 560,610 520,605 460,602 405,630"/>
<polyline class="nv" fill="none" stroke="#111" stroke-width="4" points="405,477 460,490 520,515 560,535 600,565 650,600 700,632 760,658 800,670 850,686 900,703 940,715 1000,740 1050,765 1100,795 1150,830 1200,875 1250,935 1300,1000 1340,1050 1380,1095 1420,1135 1455,1173"/>
</g>
<rect x="291.5" y="1923.5" width="978" height="989" fill="none" stroke="#333" stroke-width="4.5"/>
<path stroke="#333" stroke-width="4" d="M279 2209H291M279 2549.8H291M279 2890.6H291M438 2913V2925M605.6 2913V2925M773.2 2913V2925M940.8 2913V2925M1108.4 2913V2925"/>
<g class="tk" text-anchor="end"><text x="270" y="2226">20</text><text x="270" y="2566.8">10</text><text x="270" y="2907.6">0</text></g>
<g class="tk" text-anchor="middle">
<text x="438" y="2976">0.5</text><text x="605.6" y="2976">0.6</text><text x="773.2" y="2976">0.7</text><text x="940.8" y="2976">0.8</text><text x="1108.4" y="2976">0.9</text>
</g>
<g font-size="47">
<text transform="translate(1158,2008) scale(0.9,1)" text-anchor="end">R<tspan font-size="28" dy="-17">2</tspan><tspan font-size="28" dy="29">marginal</tspan><tspan dy="-12">&#160;= 0.534</tspan></text>
<text transform="translate(1158,2067) scale(0.9,1)" text-anchor="end">R<tspan font-size="28" dy="-17">2</tspan><tspan font-size="28" dy="29">conditional</tspan><tspan dy="-12">&#160;= 0.798</tspan></text>
<text transform="translate(1158,2128) scale(0.9,1)" text-anchor="end"><tspan font-style="italic">p</tspan>&#160;&lt; 0.001</text>
</g>
<text transform="translate(198,2367) rotate(-90)" text-anchor="middle" font-size="59">Nematode richness</text>
<text x="755" y="3057" text-anchor="middle" font-size="74">Aridity</text>
<text x="163" y="1841" font-size="52" font-weight="bold" fill="#4d4d4d">(c)</text>
<circle cx="17" cy="2710" r="4" fill="none" stroke="#0000ff" stroke-width="1.5"/>

<!-- ========== PANEL D ========== -->
<g transform="matrix(0.8425 0 0 0.7895 1321 1850)">
<path class="d" stroke="#F8766D" stroke-width="11" d="M372 590h0M372 600h0M372 680h0M372 720h0M372 760h0M372 800h0M432 458h0M432 695h0M432 740h0M536 259h0M536 358h0M536 385h0M536 452h0M536 490h0M536 540h0M536 590h0M536 620h0M536 680h0M536 720h0M536 760h0M561 390h0M561 442h0M561 540h0M561 560h0M561 580h0M561 640h0M561 660h0M561 690h0M600 151h0M600 272h0M600 378h0M600 390h0M600 580h0M600 610h0M600 640h0M623 300h0M623 340h0M623 500h0M623 530h0M661 561h0M661 575h0M661 630h0M661 680h0M661 720h0M661 855h0M707 366h0M707 590h0M707 620h0M707 640h0M707 700h0M707 730h0M707 790h0M707 800h0M713 750h0M713 800h0M770 571h0M770 690h0M770 730h0M770 770h0M770 800h0M770 830h0M770 870h0M784 800h0M784 900h0M784 920h0M784 940h0M784 980h0M830 545h0M830 560h0M830 600h0M830 610h0M830 660h0M830 680h0M830 700h0M830 740h0M830 770h0M830 800h0M850 507h0M850 590h0M850 660h0M850 700h0M850 740h0M850 760h0M850 780h0M877 548h0M877 740h0M877 760h0M877 800h0M877 860h0M877 880h0M938 770h0M938 800h0M938 860h0M938 880h0M1017 755h0M1017 775h0M1017 800h0M1017 820h0M1017 880h0M1017 920h0M1060 745h0M1060 770h0M1060 870h0M1080 655h0M1080 665h0M1080 880h0M1110 860h0M1110 880h0M1110 900h0M1110 940h0M1110 1040h0M1110 1245h0M1122 740h0M1122 760h0M1122 800h0M1122 840h0M1122 880h0M1148 740h0M1148 770h0M1148 800h0M1148 870h0M1148 930h0M1148 1000h0M1170 730h0M1170 760h0M1170 790h0M1170 830h0M1170 880h0M1170 940h0M1170 1180h0M1191 890h0M1191 930h0M1213 730h0M1213 750h0M1213 780h0M1213 800h0M1213 830h0M1213 850h0M1213 870h0M1213 920h0M1294 543h0M1294 579h0M1294 592h0M1294 645h0M1294 665h0M1294 750h0M1294 780h0M1294 820h0M1294 840h0M1294 860h0M1338 443h0M1338 657h0M1338 685h0M1338 1060h0M1338 1085h0M1356 587h0M1356 597h0M1356 668h0M1356 770h0M1356 830h0M1356 860h0M1356 1000h0M1360 595h0M1360 740h0M1360 930h0M1360 970h0M1360 1040h0M1360 1080h0M1380 920h0M1380 960h0M1380 1030h0M1380 1070h0M1405 563h0M1405 740h0M1405 840h0M1405 880h0M1405 930h0M1405 970h0M1405 1040h0M1405 1080h0M1405 1100h0M1405 1140h0M1418 695h0M1418 735h0M1418 770h0M1418 820h0M1418 860h0M1418 940h0M1418 1010h0M1418 1050h0M1418 1080h0M1418 1120h0M1440 770h0M1440 890h0M1440 930h0M1440 960h0M1440 1000h0M1440 1030h0M1440 1080h0M1440 1120h0M1460 640h0M1460 650h0M1460 780h0M1460 860h0M1460 890h0M1460 940h0M1460 960h0M1460 1000h0M1460 1040h0M1460 1080h0M1460 1130h0M1460 1170h0M1465 860h0M1465 900h0M1465 1000h0M1484 800h0M1484 860h0M1484 880h0M1484 940h0M1484 980h0M1484 1020h0M1484 1060h0M1484 1100h0M1484 1140h0"/>
<path class="d" stroke="#7CAE00" stroke-width="11" d="M372 740h0M372 780h0M372 830h0M372 870h0M372 960h0M372 990h0M432 780h0M432 830h0M432 860h0M432 990h0M536 790h0M536 830h0M536 850h0M536 880h0M536 900h0M536 960h0M536 1030h0M536 1060h0M561 640h0M561 860h0M561 920h0M561 950h0M561 1040h0M561 1080h0M600 730h0M600 890h0M600 920h0M600 940h0M623 740h0M623 780h0M623 860h0M623 880h0M661 940h0M661 1000h0M661 1040h0M707 960h0M707 1000h0M707 1050h0M707 1080h0M707 1130h0M707 1210h0M707 1245h0M713 1000h0M713 1080h0M770 930h0M770 960h0M770 1080h0M770 1170h0M784 980h0M784 1050h0M784 1090h0M830 870h0M830 960h0M830 1000h0M830 1070h0M830 1285h0M850 700h0M850 750h0M850 1080h0M877 930h0M877 1030h0M877 1070h0M877 1150h0M938 730h0M938 740h0M938 850h0M938 880h0M938 930h0M938 1050h0M938 1070h0M1017 820h0M1017 850h0M1017 960h0M1017 990h0M1060 900h0M1060 1150h0M1080 745h0M1080 770h0M1080 870h0M1080 935h0M1110 855h0M1110 900h0M1110 980h0M1110 1120h0M1110 1150h0M1110 1210h0M1110 1280h0M1122 730h0M1122 830h0M1122 1130h0M1148 740h0M1148 800h0M1148 860h0M1148 940h0M1148 1020h0M1148 1270h0M1170 543h0M1170 750h0M1170 780h0M1170 850h0M1191 740h0M1191 1000h0M1191 1270h0M1213 673h0M1213 735h0M1213 760h0M1213 790h0M1213 960h0M1213 1000h0M1213 1090h0M1213 1280h0M1294 880h0M1294 910h0M1294 960h0M1294 1040h0M1294 1080h0M1294 1200h0M1338 840h0M1338 990h0M1338 1080h0M1338 1160h0M1338 1215h0M1356 795h0M1356 940h0M1356 1030h0M1356 1090h0M1356 1180h0M1360 950h0M1360 1020h0M1360 1140h0M1360 1230h0M1380 960h0M1380 1060h0M1380 1150h0M1405 1080h0M1405 1160h0M1405 1280h0M1418 1000h0M1418 1100h0M1418 1180h0M1418 1240h0M1440 920h0M1440 1050h0M1440 1150h0M1440 1210h0M1440 1270h0M1460 940h0M1460 1060h0M1460 1140h0M1460 1190h0M1460 1240h0M1465 1010h0M1484 860h0M1484 870h0M1484 1000h0M1484 1040h0M1484 1070h0M1484 1120h0M1484 1190h0M1484 1220h0"/>
<path class="d" stroke="#00BFC4" stroke-width="11" d="M372 560h0M372 650h0M372 700h0M372 760h0M372 800h0M372 840h0M372 870h0M372 930h0M372 1050h0M372 1080h0M432 595h0M432 630h0M432 800h0M432 870h0M432 930h0M536 1000h0M536 1040h0M536 1090h0M536 1120h0M536 1160h0M536 1260h0M561 520h0M561 760h0M561 860h0M561 980h0M561 1130h0M600 540h0M600 840h0M600 860h0M623 640h0M623 780h0M623 860h0M623 1130h0M661 920h0M661 960h0M661 1060h0M661 1120h0M661 1180h0M707 1000h0M707 1040h0M707 1100h0M707 1150h0M707 1190h0M707 1260h0M713 970h0M713 1080h0M713 1120h0M713 1220h0M770 634h0M770 840h0M770 900h0M770 1000h0M770 1090h0M770 1110h0M770 1140h0M784 638h0M784 1080h0M784 1160h0M784 1215h0M784 1260h0M830 745h0M830 860h0M830 1120h0M830 1220h0M830 1255h0M850 575h0M850 665h0M850 960h0M850 1120h0M877 830h0M877 900h0M877 1020h0M877 1070h0M938 960h0M938 1000h0M938 1040h0M938 1110h0M1017 1030h0M1017 1110h0M1017 1150h0M1017 1165h0M1060 880h0M1060 1030h0M1060 1185h0M1080 830h0M1080 990h0M1080 1020h0M1080 1065h0M1110 1005h0M1110 1050h0M1110 1100h0M1110 1150h0M1122 657h0M1122 700h0M1122 920h0M1148 790h0M1148 840h0M1148 1060h0M1148 1150h0M1148 1210h0M1170 633h0M1170 980h0M1170 1120h0M1170 1210h0M1170 1275h0M1191 1160h0M1191 1280h0M1213 920h0M1213 1030h0M1213 1050h0M1213 1100h0M1213 1160h0M1213 1210h0M1213 1250h0M1213 1280h0M1294 1020h0M1294 1060h0M1294 1090h0M1294 1190h0M1294 1250h0M1338 1000h0M1338 1100h0M1338 1150h0M1338 1260h0M1338 1280h0M1356 895h0M1356 940h0M1356 1025h0M1356 1220h0M1356 1270h0M1360 1020h0M1360 1170h0M1360 1250h0M1360 1285h0M1380 1040h0M1380 1100h0M1380 1180h0M1380 1260h0M1405 1120h0M1405 1200h0M1405 1260h0M1418 960h0M1418 1100h0M1418 1190h0M1418 1250h0M1418 1290h0M1440 1030h0M1440 1130h0M1440 1220h0M1440 1280h0M1460 1050h0M1460 1120h0M1460 1160h0M1460 1210h0M1460 1270h0M1465 1240h0M1484 1200h0M1484 1220h0M1484 1250h0M1484 1270h0M1484 1290h0"/>
<path class="d" stroke="#C77CFF" stroke-width="11" d="M372 465h0M372 535h0M372 575h0M372 650h0M372 700h0M372 740h0M432 497h0M432 552h0M432 560h0M432 700h0M432 725h0M432 760h0M432 900h0M432 960h0M536 545h0M536 570h0M536 740h0M536 770h0M561 415h0M561 490h0M561 500h0M561 720h0M561 760h0M561 800h0M561 840h0M561 870h0M600 290h0M600 660h0M600 700h0M600 730h0M600 760h0M600 790h0M623 437h0M623 450h0M623 468h0M623 650h0M623 680h0M661 473h0M661 730h0M661 780h0M707 650h0M707 700h0M707 740h0M707 780h0M707 820h0M707 900h0M713 545h0M713 650h0M770 675h0M770 760h0M770 800h0M770 860h0M784 780h0M784 850h0M830 705h0M830 780h0M830 820h0M830 870h0M830 880h0M830 1080h0M830 1120h0M830 1170h0M850 553h0M850 632h0M850 660h0M850 700h0M850 830h0M850 880h0M850 930h0M877 634h0M877 670h0M877 700h0M877 850h0M877 880h0M938 510h0M938 800h0M938 820h0M938 840h0M938 1020h0M938 1070h0M1017 850h0M1017 1070h0M1017 1090h0M1017 1130h0M1017 1190h0M1060 890h0M1060 910h0M1060 980h0M1060 1040h0M1060 1090h0M1080 665h0M1080 850h0M1080 890h0M1080 930h0M1110 870h0M1110 920h0M1110 970h0M1110 1060h0M1110 1120h0M1122 557h0M1122 770h0M1122 800h0M1122 1050h0M1148 930h0M1148 980h0M1148 1030h0M1148 1190h0M1148 1250h0M1170 830h0M1170 950h0M1170 1000h0M1170 1050h0M1170 1100h0M1170 1250h0M1191 880h0M1191 1000h0M1191 1210h0M1213 820h0M1213 860h0M1213 900h0M1213 940h0M1213 980h0M1213 1020h0M1213 1060h0M1213 1100h0M1213 1140h0M1213 1180h0M1213 1240h0M1294 925h0M1294 990h0M1294 1030h0M1294 1090h0M1294 1120h0M1338 750h0M1338 1090h0M1338 1130h0M1338 1180h0M1338 1240h0M1338 1270h0M1338 1290h0M1356 870h0M1356 1010h0M1356 1060h0M1356 1110h0M1356 1200h0M1356 1250h0M1356 1280h0M1360 950h0M1360 1040h0M1360 1120h0M1360 1250h0M1380 1010h0M1380 1140h0M1380 1240h0M1380 1280h0M1405 1030h0M1405 1090h0M1405 1150h0M1405 1200h0M1405 1240h0M1405 1280h0M1418 593h0M1418 930h0M1418 1000h0M1418 1120h0M1418 1170h0M1418 1220h0M1418 1270h0M1440 1040h0M1440 1090h0M1440 1200h0M1440 1240h0M1440 1290h0M1460 820h0M1460 880h0M1460 950h0M1460 1020h0M1460 1100h0M1460 1160h0M1460 1200h0M1460 1260h0M1460 1280h0M1465 940h0M1465 1120h0M1465 1190h0M1484 915h0M1484 1060h0M1484 1110h0M1484 1150h0M1484 1180h0M1484 1230h0M1484 1260h0M1484 1290h0"/>
<g stroke-width="4" stroke-linejoin="round">
<polygon class="nv" fill="#F8766D" fill-opacity="0.3" stroke="#F8766D" points="372,545 432,575 536,610 600,632 707,660 781,705 849,740 934,777 1012,815 1104,850 1205,885 1285,915 1350,940 1484,985 1484,1025 1350,975 1285,950 1205,920 1104,885 1012,855 934,825 849,790 781,770 707,750 600,720 536,710 432,715 372,725"/>
<polygon class="nv" fill="#7CAE00" fill-opacity="0.3" stroke="#7CAE00" points="372,738 432,825 536,895 600,920 707,930 781,925 849,915 934,905 1012,905 1104,915 1150,930 1205,960 1250,1020 1300,1075 1350,1130 1484,1195 1484,1215 1350,1170 1300,1125 1250,1070 1205,1015 1150,980 1104,975 1012,970 934,970 849,975 781,985 707,990 600,975 536,960 432,920 372,905"/>
<polygon class="nv" fill="#00BFC4" fill-opacity="0.3" stroke="#00BFC4" points="372,700 432,810 536,930 600,965 707,985 781,970 849,950 934,935 1012,945 1104,1000 1205,1075 1285,1135 1350,1170 1484,1210 1484,1230 1350,1200 1285,1180 1205,1140 1104,1075 1012,1020 934,1005 849,1010 781,1030 707,1035 600,1020 536,990 432,920 372,880"/>
<polygon class="nv" fill="#C77CFF" fill-opacity="0.3" stroke="#C77CFF" points="372,470 432,560 536,690 600,750 707,790 781,810 849,830 934,860 1012,900 1104,960 1205,1040 1285,1100 1350,1140 1484,1190 1484,1215 1350,1175 1285,1140 1205,1090 1104,1020 1012,955 934,910 849,880 781,855 707,840 600,815 536,795 432,730 372,695"/>
</g>
<g fill="none" stroke-width="4" stroke-linejoin="round">
<polyline class="nv" stroke="#F8766D" points="372,637 432,645 536,660 600,675 707,705 781,737 849,765 934,800 1012,835 1104,868 1205,903 1285,932 1350,957 1484,1005"/>
<polyline class="nv" stroke="#7CAE00" points="372,825 432,870 536,925 600,945 707,960 781,955 849,945 934,935 1012,940 1104,945 1150,955 1205,990 1250,1045 1300,1100 1350,1150 1484,1205"/>
<polyline class="nv" stroke="#00BFC4" points="372,790 432,860 536,960 600,995 707,1010 781,1005 849,985 934,970 1012,985 1104,1040 1205,1110 1285,1160 1350,1185 1484,1222"/>
<polyline class="nv" stroke="#C77CFF" points="372,580 432,625 536,735 600,775 707,812 781,830 849,855 934,885 1012,928 1104,990 1205,1065 1285,1120 1350,1160 1484,1203"/>
</g>
</g>
<rect x="1586.5" y="1925" width="1032" height="987" fill="none" stroke="#333" stroke-width="4.5"/>
<path stroke="#333" stroke-width="4" d="M1574 2148.4H1586M1574 2377.9H1586M1574 2607.4H1586M1574 2836.9H1586M1740.6 2912V2924M1917.5 2912V2924M2094.4 2912V2924M2271.3 2912V2924M2448.2 2912V2924"/>
<g class="tk" text-anchor="end"><text x="1560" y="2165.4">9</text><text x="1560" y="2394.9">6</text><text x="1560" y="2624.4">3</text><text x="1560" y="2853.9">0</text></g>
<g class="tk" text-anchor="middle">
<text x="1740.6" y="2976">0.5</text><text x="1917.5" y="2976">0.6</text><text x="2094.4" y="2976">0.7</text><text x="2271.3" y="2976">0.8</text><text x="2448.2" y="2976">0.9</text>
</g>
<g font-size="47">
<text transform="translate(2342,2008) scale(0.9,1)" text-anchor="end">R<tspan font-size="28" dy="-17">2</tspan><tspan font-size="28" dy="29">marginal</tspan><tspan dy="-12">&#160;= 0.592</tspan></text>
<text transform="translate(2342,2067) scale(0.9,1)" text-anchor="end">R<tspan font-size="28" dy="-17">2</tspan><tspan font-size="28" dy="29">conditional</tspan><tspan dy="-12">&#160;= 0.677</tspan></text>
<text transform="translate(2342,2128) scale(0.9,1)" text-anchor="end"><tspan font-style="italic">p</tspan>&#160;&lt; 0.001</text>
</g>
<text transform="translate(1494,2383) rotate(-90)" text-anchor="middle" font-size="59">Nematode richness</text>
<text x="2119" y="3047" text-anchor="middle" font-size="74">Aridity</text>
<text x="1416" y="1841" font-size="52" font-weight="bold" fill="#4d4d4d">(d)</text>
</svg>
</body></html>
